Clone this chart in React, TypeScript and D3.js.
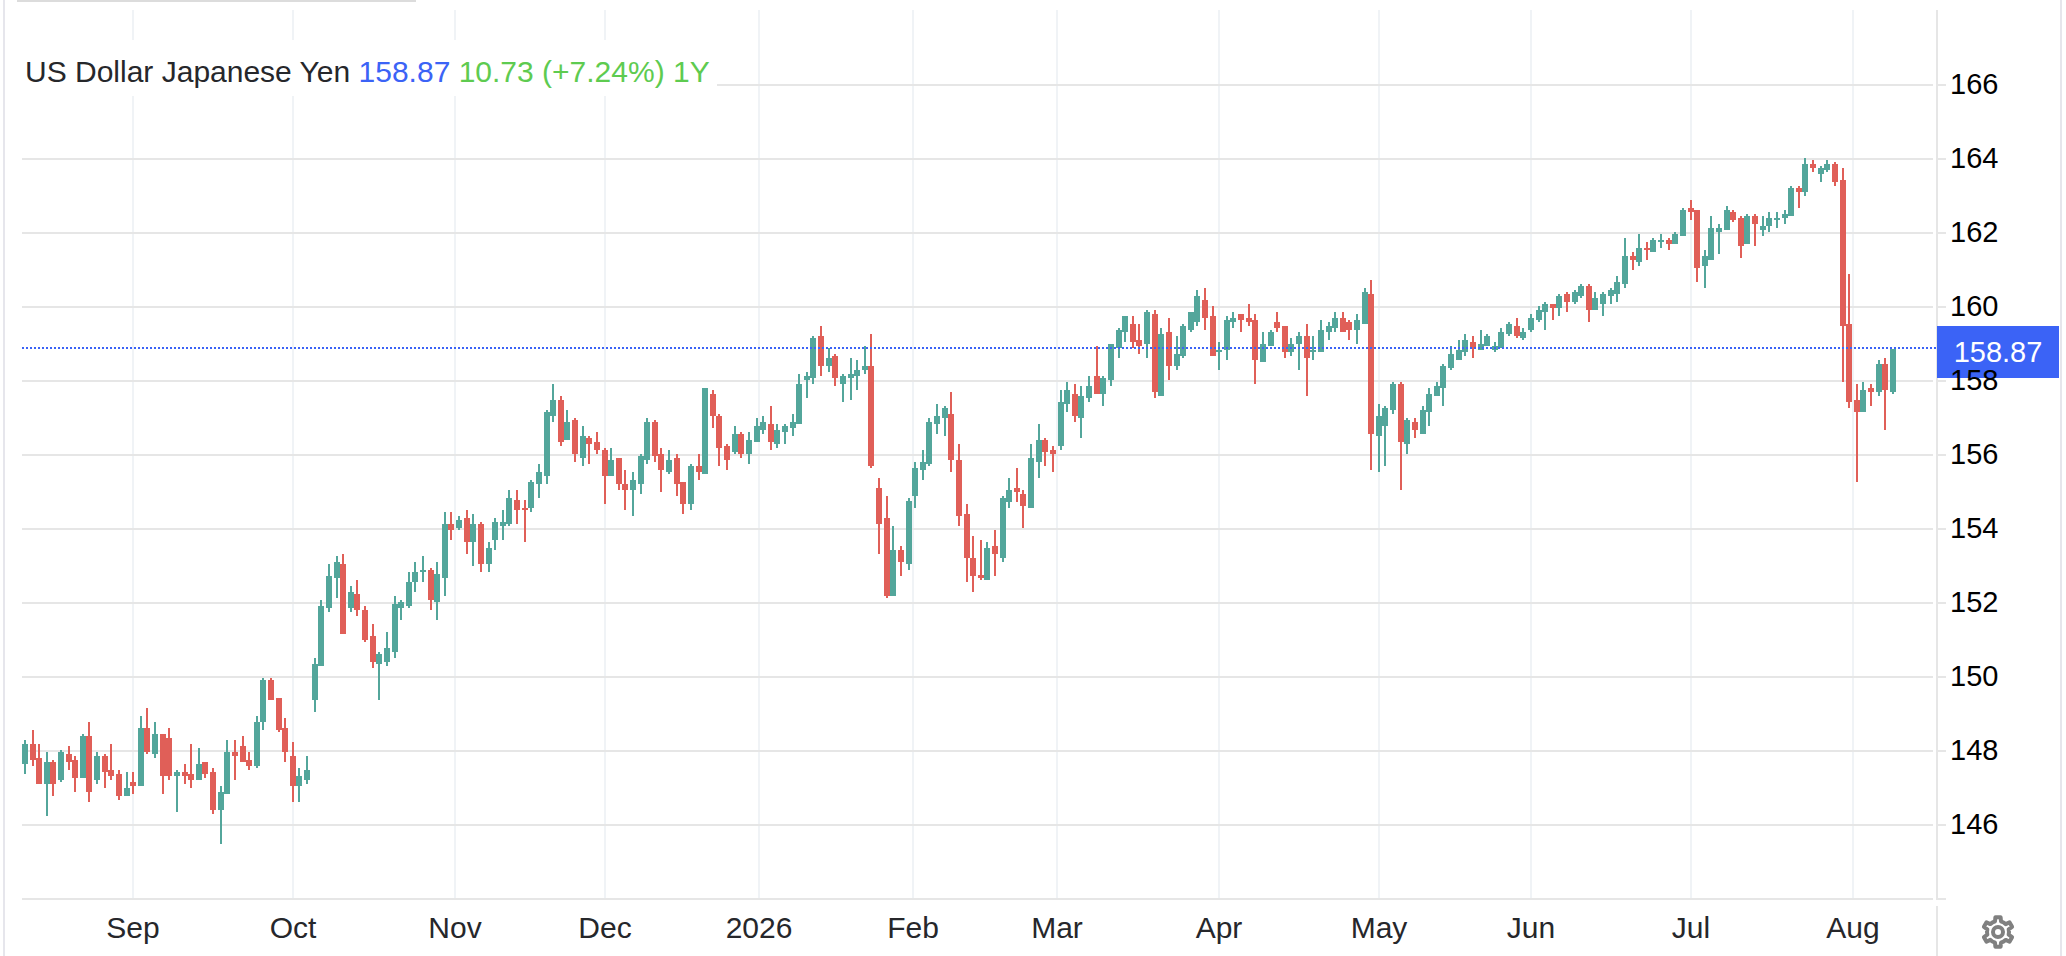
import React, { useEffect, useRef } from 'react';
import * as d3 from 'd3';

const opens = [
  147.65, 148.19, 147.81, 147.11, 147.70, 147.22, 147.92, 147.76, 147.27, 148.41,
  147.22, 147.86, 147.49, 147.38, 146.78, 147.16, 147.05, 148.62, 147.92, 148.46,
  148.35, 147.32, 147.43, 147.38, 147.22, 147.70, 147.43, 146.41, 146.84, 147.97,
  148.14, 147.76, 147.59, 148.78, 149.92, 149.43, 148.62, 147.86, 147.05, 147.22,
  149.38, 150.30, 151.86, 152.68, 153.05, 151.86, 152.24, 151.81, 151.11, 150.35,
  150.41, 150.68, 151.86, 151.92, 152.57, 152.84, 152.89, 152.03, 152.68, 154.14,
  154.03, 154.30, 153.65, 154.14, 153.05, 153.70, 154.08, 154.14, 154.78, 154.57,
  154.57, 155.22, 155.43, 157.05, 157.49, 156.41, 156.95, 155.92, 156.46, 156.35,
  156.14, 155.43, 155.92, 155.22, 155.05, 155.22, 155.86, 156.89, 156.03, 155.54,
  155.92, 155.27, 154.68, 155.70, 155.49, 157.65, 157.05, 156.24, 156.08, 156.57,
  156.03, 156.35, 156.68, 156.84, 156.30, 156.62, 156.73, 156.84, 158.03, 158.07,
  159.21, 158.40, 158.67, 157.91, 158.07, 158.13, 158.29, 158.40, 155.10, 154.29,
  152.18, 153.42, 153.05, 154.88, 155.59, 155.75, 156.83, 156.99, 157.10, 155.86,
  154.40, 153.21, 152.77, 152.61, 153.53, 153.21, 154.72, 155.10, 154.94, 154.56,
  155.80, 156.40, 156.13, 156.23, 157.37, 157.64, 156.99, 157.53, 158.13, 157.64,
  158.02, 158.88, 159.32, 159.53, 159.10, 158.99, 159.80, 157.59, 159.32, 158.40,
  158.67, 159.37, 159.59, 160.19, 159.76, 158.78, 158.84, 159.59, 159.81, 159.70,
  159.65, 158.51, 158.95, 159.59, 159.49, 158.78, 159.00, 159.22, 158.78, 158.78,
  159.32, 159.43, 159.70, 159.59, 159.38, 159.54, 160.35, 156.51, 156.78, 157.22,
  157.92, 156.30, 156.89, 156.57, 157.16, 157.59, 157.81, 158.35, 158.57, 158.78,
  159.05, 158.84, 158.95, 158.84, 158.89, 159.27, 159.49, 159.16, 159.38, 159.65,
  159.86, 160.08, 159.97, 160.35, 160.14, 160.30, 160.57, 159.92, 160.08, 160.30,
  160.35, 160.62, 161.38, 161.22, 161.59, 161.49, 161.76, 161.81, 161.70, 161.92,
  162.68, 162.62, 161.11, 161.27, 162.03, 162.08, 162.57, 162.41, 161.70, 162.46,
  162.08, 162.19, 162.35, 162.41, 162.46, 163.22, 163.11, 163.86, 163.59, 163.70,
  163.86, 163.43, 159.54, 157.49, 157.16, 157.81, 157.70, 158.46, 157.70,
];

const highs = [
  148.30, 148.57, 148.19, 147.97, 147.76, 148.03, 148.14, 147.86, 148.46, 148.78,
  147.97, 147.92, 148.19, 147.49, 147.43, 147.43, 148.95, 149.16, 148.78, 148.46,
  148.62, 147.49, 147.65, 148.19, 148.08, 147.70, 147.54, 147.05, 148.30, 148.30,
  148.41, 147.97, 148.95, 149.97, 149.97, 149.43, 148.89, 148.24, 147.54, 147.86,
  150.51, 152.08, 153.05, 153.27, 153.32, 152.46, 152.62, 151.92, 151.43, 150.68,
  151.22, 152.19, 152.08, 152.84, 153.11, 153.27, 152.95, 153.11, 154.46, 154.46,
  154.35, 154.51, 154.41, 154.19, 153.65, 154.30, 154.51, 155.05, 155.05, 154.78,
  155.32, 155.76, 157.22, 157.92, 157.59, 157.22, 157.00, 156.78, 156.51, 156.62,
  156.19, 156.19, 155.92, 155.59, 155.54, 156.03, 157.00, 156.95, 156.19, 156.14,
  156.03, 155.27, 155.76, 156.03, 157.81, 157.76, 157.11, 156.30, 156.78, 156.62,
  156.62, 157.00, 157.05, 157.32, 156.84, 156.84, 157.11, 158.19, 158.24, 159.21,
  159.48, 158.88, 158.72, 158.18, 158.61, 158.56, 158.94, 159.26, 155.37, 154.88,
  154.07, 153.53, 154.83, 155.80, 156.13, 156.99, 157.37, 157.32, 157.69, 156.29,
  154.67, 153.80, 153.69, 153.64, 153.96, 154.88, 155.37, 155.64, 155.05, 156.29,
  156.83, 156.45, 156.23, 157.75, 157.96, 157.91, 157.86, 158.13, 158.94, 158.13,
  158.99, 159.42, 159.75, 159.75, 159.53, 159.91, 159.91, 159.42, 159.69, 159.21,
  159.53, 159.86, 160.46, 160.51, 160.03, 159.05, 159.76, 159.86, 159.81, 160.08,
  159.81, 159.32, 159.38, 159.86, 159.49, 159.16, 159.32, 159.54, 159.22, 159.65,
  159.59, 159.86, 159.86, 159.65, 159.81, 160.51, 160.73, 157.38, 157.32, 157.97,
  157.97, 157.00, 157.00, 157.32, 157.81, 157.97, 158.46, 158.95, 159.11, 159.27,
  159.22, 159.38, 159.27, 159.05, 159.43, 159.59, 159.70, 159.43, 159.81, 160.03,
  160.14, 160.08, 160.35, 160.41, 160.46, 160.62, 160.62, 160.41, 160.41, 160.51,
  160.84, 161.86, 161.49, 161.97, 161.76, 161.86, 161.97, 161.86, 162.03, 162.68,
  162.89, 162.62, 161.54, 162.46, 162.24, 162.73, 162.62, 162.46, 162.51, 162.51,
  162.46, 162.57, 162.57, 162.62, 163.27, 163.27, 164.03, 163.97, 163.81, 163.97,
  163.92, 163.76, 160.89, 157.92, 157.97, 157.92, 158.57, 158.62, 158.87,
];

const lows = [
  147.38, 147.59, 147.11, 146.24, 146.78, 147.16, 147.49, 146.89, 147.27, 146.62,
  147.11, 147.00, 147.22, 146.68, 146.78, 146.84, 147.05, 147.92, 147.81, 146.84,
  147.22, 146.35, 147.11, 147.00, 147.22, 147.27, 146.30, 145.49, 146.84, 147.22,
  147.70, 147.49, 147.54, 148.57, 149.38, 148.51, 147.70, 146.62, 146.62, 147.11,
  149.05, 150.30, 151.76, 152.14, 151.16, 151.76, 151.65, 150.95, 150.24, 149.38,
  150.30, 150.51, 151.54, 151.86, 152.30, 152.57, 151.81, 151.54, 152.19, 153.70,
  153.97, 153.32, 153.00, 152.84, 152.84, 153.43, 153.70, 154.08, 154.14, 153.65,
  154.46, 154.84, 155.22, 156.89, 156.24, 156.41, 155.81, 155.70, 155.76, 156.03,
  154.68, 155.43, 155.05, 154.51, 154.35, 154.95, 155.76, 155.81, 155.00, 155.49,
  154.89, 154.41, 154.51, 155.32, 155.49, 156.73, 155.70, 155.59, 156.03, 155.92,
  155.76, 156.35, 156.57, 156.14, 156.19, 156.30, 156.51, 156.84, 157.54, 157.91,
  158.13, 158.23, 157.86, 157.42, 157.48, 157.75, 158.18, 155.64, 153.32, 152.13,
  152.18, 152.72, 152.88, 154.56, 155.32, 155.69, 156.56, 156.50, 155.53, 154.07,
  152.56, 152.29, 152.61, 152.61, 152.72, 153.10, 154.56, 154.72, 154.02, 154.56,
  155.37, 155.69, 155.53, 156.13, 157.15, 156.88, 156.45, 157.42, 157.64, 157.32,
  157.86, 158.61, 159.05, 158.88, 158.72, 158.61, 157.53, 157.59, 158.02, 158.29,
  158.61, 159.32, 159.49, 159.38, 158.68, 158.30, 158.57, 159.43, 159.32, 159.49,
  157.92, 158.51, 158.95, 159.32, 158.62, 158.68, 158.30, 157.59, 158.57, 158.78,
  159.11, 159.32, 159.32, 159.11, 159.00, 159.54, 155.59, 155.54, 155.70, 157.11,
  155.05, 156.03, 156.46, 156.57, 156.78, 157.59, 157.32, 158.30, 158.57, 158.68,
  158.62, 158.84, 158.95, 158.78, 158.89, 159.22, 159.16, 159.11, 159.32, 159.59,
  159.38, 159.65, 159.76, 159.86, 160.08, 160.24, 159.59, 159.92, 159.76, 160.08,
  160.14, 160.51, 161.00, 161.11, 161.27, 161.49, 161.59, 161.54, 161.70, 161.92,
  162.35, 160.68, 160.51, 161.27, 161.43, 162.08, 162.30, 161.32, 161.70, 161.65,
  161.92, 162.03, 162.14, 162.24, 162.46, 162.68, 163.00, 163.65, 163.38, 163.65,
  163.27, 157.97, 157.27, 155.27, 157.16, 157.32, 157.59, 156.68, 157.65,
];

const closes = [
  148.19, 147.76, 147.11, 147.70, 147.11, 147.97, 147.70, 147.27, 148.41, 146.89,
  147.86, 147.43, 147.32, 146.78, 147.00, 147.05, 148.62, 147.97, 148.46, 147.32,
  147.32, 147.43, 147.32, 147.22, 147.65, 147.38, 146.41, 146.89, 147.97, 147.86,
  147.70, 147.59, 148.78, 149.92, 149.38, 148.57, 147.97, 147.05, 147.32, 147.49,
  150.35, 151.92, 152.73, 153.11, 151.16, 152.30, 151.81, 151.00, 150.41, 150.62,
  150.78, 151.97, 152.03, 152.57, 152.84, 152.89, 152.08, 152.78, 154.14, 153.97,
  154.24, 153.65, 154.14, 153.05, 153.49, 154.19, 154.19, 154.84, 154.51, 154.51,
  155.27, 155.54, 157.16, 157.49, 156.35, 156.89, 156.03, 156.51, 156.30, 156.14,
  155.43, 155.86, 155.22, 155.05, 155.32, 155.97, 156.89, 155.97, 155.59, 155.86,
  155.22, 154.68, 155.70, 155.54, 157.81, 157.05, 156.19, 155.86, 156.57, 156.03,
  156.41, 156.78, 156.89, 156.35, 156.68, 156.78, 156.89, 157.92, 158.14, 159.15,
  158.40, 158.61, 158.07, 158.13, 158.18, 158.29, 158.40, 155.69, 154.13, 152.18,
  153.42, 153.10, 154.77, 155.64, 155.80, 156.88, 157.05, 157.26, 155.86, 154.34,
  153.21, 152.72, 152.67, 153.48, 153.32, 154.83, 155.05, 154.99, 154.61, 155.91,
  156.40, 156.07, 156.02, 157.42, 157.75, 157.05, 157.59, 157.86, 157.64, 158.07,
  158.99, 159.37, 159.75, 159.05, 158.94, 159.86, 157.69, 159.26, 158.40, 158.72,
  159.48, 159.86, 160.30, 159.70, 158.68, 158.84, 159.65, 159.70, 159.65, 159.59,
  158.57, 159.00, 159.32, 159.43, 158.78, 159.00, 159.22, 158.62, 158.84, 159.38,
  159.49, 159.70, 159.32, 159.38, 159.65, 160.41, 156.57, 157.05, 157.27, 157.92,
  156.35, 156.95, 156.68, 157.22, 157.65, 157.86, 158.41, 158.73, 158.84, 159.11,
  158.89, 159.00, 159.22, 158.95, 159.32, 159.54, 159.22, 159.32, 159.70, 159.92,
  160.08, 159.97, 160.30, 160.14, 160.41, 160.57, 159.92, 160.24, 160.35, 160.46,
  160.68, 161.38, 161.27, 161.59, 161.54, 161.81, 161.81, 161.70, 161.97, 162.62,
  162.57, 161.05, 161.38, 162.14, 162.14, 162.62, 162.35, 161.65, 162.46, 162.24,
  162.19, 162.41, 162.41, 162.51, 163.22, 163.11, 163.86, 163.76, 163.76, 163.86,
  163.38, 159.49, 157.43, 157.16, 157.76, 157.70, 158.46, 157.76, 158.87,
];

const monthLabels = ['Sep', 'Oct', 'Nov', 'Dec', '2026', 'Feb', 'Mar', 'Apr', 'May', 'Jun', 'Jul', 'Aug'];
// month starts, in candle numbers (halves fall on weekends)
const monthIndex = [15, 37, 59.5, 80, 101.5, 122.7, 142.6, 165, 187, 208, 230, 252.5];
const priceTicks = [146, 148, 150, 152, 154, 156, 158, 160, 162, 164, 166];
const lastPrice = 158.87;

const FONT = '"Liberation Sans", Arial, sans-serif';
const UP = '#53a69b';
const DOWN = '#e05f58';
const BLUE = '#3b63f6';

const App: React.FC = () => {
  const svgRef = useRef<SVGSVGElement | null>(null);

  useEffect(() => {
    if (!svgRef.current) return;
    const svg = d3.select(svgRef.current);
    svg.selectAll('*').remove();

    const gridLeft = 22;
    const gridRight = 1933;
    const axisX = 1937;
    const top = 10;

    const x = d3.scaleLinear().domain([0, 258]).range([24.8, 1892.8]);
    const y = d3.scaleLinear().domain([146, 164]).range([825, 159]);
    // everything in the original sits on a 2px grid
    const snapX = (i: number) => Math.floor(x(i) / 2) * 2 + 1;
    const py = (v: number) => Math.round(y(v));
    const bottom = y(144);

    const hardG = svg.append('g').attr('shape-rendering', 'crispEdges');

    // page borders
    hardG.append('rect').attr('x', 3).attr('y', 0).attr('width', 2).attr('height', 956).attr('fill', '#e6e6ec');
    hardG.append('rect').attr('x', 2060).attr('y', 0).attr('width', 2).attr('height', 956).attr('fill', '#e6e6ec');
    hardG.append('rect').attr('x', 17).attr('y', 0).attr('width', 399).attr('height', 2).attr('fill', '#dcdcdc');

    // vertical grid
    hardG.selectAll('.vgrid')
      .data(monthIndex)
      .enter()
      .append('rect')
      .attr('class', 'vgrid')
      .attr('x', d => snapX(d) - 1)
      .attr('y', top)
      .attr('width', 2)
      .attr('height', bottom - top)
      .attr('fill', '#f0f3f6');

    // horizontal grid plus the bottom line
    const hLines = [144, ...priceTicks];
    hardG.selectAll('.hgrid')
      .data(hLines)
      .enter()
      .append('rect')
      .attr('class', 'hgrid')
      .attr('x', gridLeft)
      .attr('y', d => y(d) - 1)
      .attr('width', gridRight - gridLeft)
      .attr('height', 2)
      .attr('fill', '#e6e6e6');

    // right axis
    hardG.append('rect').attr('x', axisX - 1).attr('y', top).attr('width', 2).attr('height', bottom - top).attr('fill', '#e6e6e6');
    hardG.append('rect').attr('x', axisX - 1).attr('y', 906).attr('width', 2).attr('height', 50).attr('fill', '#e6e6e6');
    hardG.selectAll('.tick-mark')
      .data(hLines)
      .enter()
      .append('rect')
      .attr('class', 'tick-mark')
      .attr('x', axisX - 1)
      .attr('y', d => y(d) - 1)
      .attr('width', 10)
      .attr('height', 2)
      .attr('fill', '#e6e6e6');

    // candles
    const candles = d3.range(opens.length);
    const colorOf = (i: number) => (closes[i] >= opens[i] ? UP : DOWN);

    hardG.selectAll('.wick')
      .data(candles)
      .enter()
      .append('rect')
      .attr('class', 'wick')
      .attr('x', i => snapX(i) - 1)
      .attr('y', i => py(highs[i]))
      .attr('width', 2)
      .attr('height', i => py(lows[i]) - py(highs[i]))
      .attr('fill', colorOf);

    hardG.selectAll('.body')
      .data(candles)
      .enter()
      .append('rect')
      .attr('class', 'body')
      .attr('x', i => snapX(i) - 3)
      .attr('y', i => py(Math.max(opens[i], closes[i])))
      .attr('width', 6)
      .attr('height', i => Math.max(2, py(Math.min(opens[i], closes[i])) - py(Math.max(opens[i], closes[i]))))
      .attr('fill', colorOf);

    // last price line
    const lastY = py(lastPrice) - 1;
    svg.append('line')
      .attr('x1', gridLeft)
      .attr('x2', axisX)
      .attr('y1', lastY)
      .attr('y2', lastY)
      .attr('stroke', BLUE)
      .attr('stroke-width', 2)
      .attr('stroke-dasharray', '2 2')
      .attr('shape-rendering', 'crispEdges');

    // price axis labels
    const axisG = svg.append('g').attr('transform', `translate(1950,0)`);
    axisG.call(d3.axisRight(y).tickValues(priceTicks).tickSize(0).tickPadding(0).tickFormat(d3.format('d')) as any);
    axisG.select('.domain').remove();
    axisG.selectAll('text')
      .attr('x', 0)
      .attr('dy', '0.3em')
      .attr('fill', '#000')
      .style('font-family', FONT)
      .style('font-size', '29px');

    // month labels
    svg.selectAll('.month')
      .data(monthLabels)
      .enter()
      .append('text')
      .attr('class', 'month')
      .attr('x', (_, i) => snapX(monthIndex[i]))
      .attr('y', 938)
      .attr('text-anchor', 'middle')
      .attr('fill', '#26272b')
      .style('font-family', FONT)
      .style('font-size', '30px')
      .text(d => d);

    // last price tag
    hardG.append('rect').attr('x', axisX).attr('y', 326).attr('width', 122).attr('height', 52).attr('fill', BLUE);
    svg.append('text')
      .attr('x', 1998)
      .attr('y', 362)
      .attr('text-anchor', 'middle')
      .attr('fill', '#fff')
      .style('font-family', FONT)
      .style('font-size', '29px')
      .text(lastPrice.toFixed(2));

    // title with its white backing
    svg.append('rect').attr('x', gridLeft).attr('y', 40).attr('width', 695).attr('height', 56).attr('fill', '#fff');
    const title = svg.append('text')
      .attr('x', 25)
      .attr('y', 82)
      .style('font-family', FONT)
      .style('font-size', '30px');
    title.append('tspan').attr('fill', '#26272b').text('US Dollar Japanese Yen ');
    title.append('tspan').attr('fill', BLUE).text('158.87 ');
    title.append('tspan').attr('fill', '#5ecb50').text('10.73 (+7.24%) 1Y');

    // settings gear
    const teeth = 6;
    const gearPoints: [number, number][] = [];
    d3.range(teeth).forEach(t => {
      const step = (2 * Math.PI) / teeth;
      const a = t * step;
      [[-0.5, 11], [-0.27, 11], [-0.17, 15], [0.17, 15], [0.27, 11]].forEach(([o, r]) => {
        gearPoints.push([a + o * step * 0.98, r]);
      });
    });
    const gear = svg.append('g').attr('transform', 'translate(1998,932)');
    gear.append('path')
      .attr('d', d3.lineRadial().curve(d3.curveLinearClosed)(gearPoints) as string)
      .attr('fill', 'none')
      .attr('stroke', '#808080')
      .attr('stroke-width', 4)
      .attr('stroke-linejoin', 'round');
    gear.append('circle').attr('r', 5).attr('fill', 'none').attr('stroke', '#808080').attr('stroke-width', 4);
  }, []);

  return (
    <svg
      ref={svgRef}
      width={2066}
      height={956}
      style={{ position: 'absolute', left: 0, top: 0, background: '#fff', display: 'block' }}
    ></svg>
  );
};

export default App;
